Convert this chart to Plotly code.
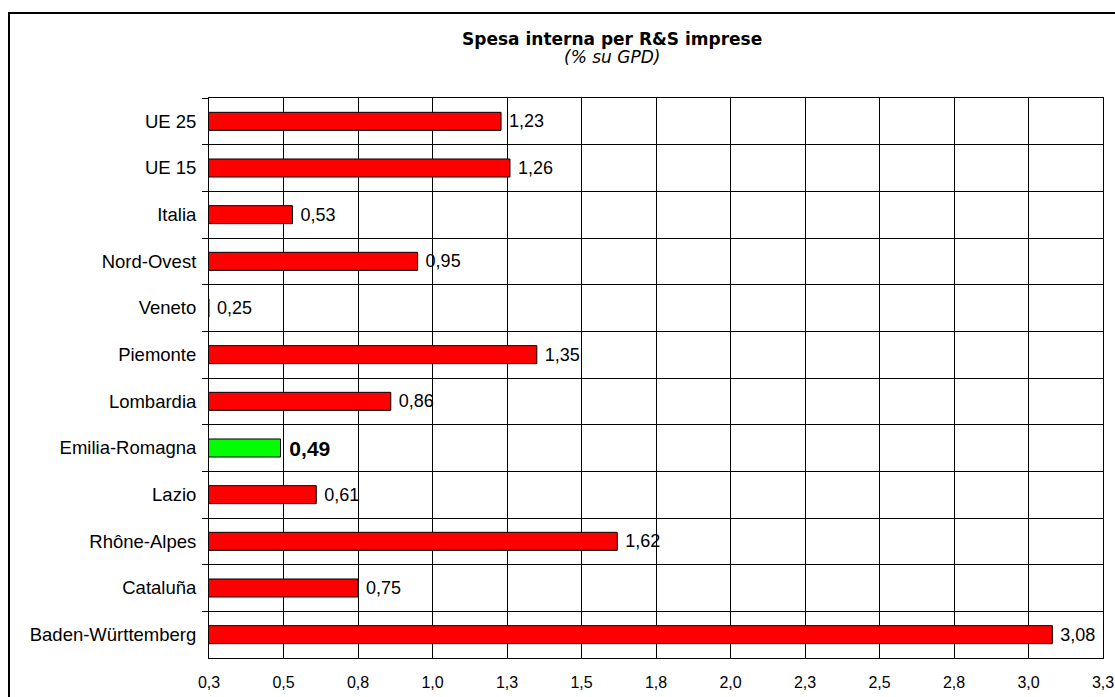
import plotly.graph_objects as go

# Business R&D expenditure as % of GDP, by region (top to bottom)
regions = [
    "UE 25", "UE 15", "Italia", "Nord-Ovest", "Veneto", "Piemonte",
    "Lombardia", "Emilia-Romagna", "Lazio", "Rhône-Alpes", "Cataluña",
    "Baden-Württemberg",
]
spesa = [1.23, 1.26, 0.53, 0.95, 0.25, 1.35, 0.86, 0.49, 0.61, 1.62, 0.75, 3.08]
highlight = "Emilia-Romagna"

# x-axis ticks (labels rounded to one decimal)
tick_values = [0.25, 0.5, 0.75, 1.0, 1.25, 1.5, 1.75, 2.0, 2.25, 2.5, 2.75, 3.0, 3.25]
tick_labels = ["0,3", "0,5", "0,8", "1,0", "1,3", "1,5", "1,8", "2,0", "2,3", "2,5", "2,8", "3,0", "3,3"]

bar_colors = ["#00FF00" if r == highlight else "#FF0000" for r in regions]
text_tpl = ["\u00a0<b>%{x:.2f}</b>" if r == highlight else "\u00a0%{x:.2f}" for r in regions]
text_sizes = [21 if r == highlight else 18 for r in regions]

fig = go.Figure(
    go.Bar(
        y=regions,
        x=spesa,
        orientation="h",
        marker=dict(color=bar_colors, line=dict(color="black", width=1)),
        texttemplate=text_tpl,
        textposition="outside",
        constraintext="none",
        textfont=dict(family="Liberation Sans, Arial, sans-serif", size=text_sizes, color="black"),
        hoverinfo="skip",
    )
)

fig.update_layout(
    width=1115,
    height=697,
    margin=dict(l=209, r=12, t=98, b=39, autoexpand=False),
    paper_bgcolor="white",
    plot_bgcolor="white",
    separators=",.",
    bargap=0.614,
    showlegend=False,
    font=dict(family="Liberation Sans, Arial, sans-serif", color="black"),
    xaxis=dict(
        range=[tick_values[0], tick_values[-1]],
        tickmode="array",
        tickvals=tick_values,
        ticktext=tick_labels,
        tickfont=dict(size=16),
        showgrid=True,
        gridcolor="black",
        gridwidth=1,
        showline=True,
        linecolor="black",
        linewidth=1,
        mirror=True,
        ticks="",
        ticklabelstandoff=10,
        automargin=False,
        zeroline=False,
        fixedrange=True,
    ),
    yaxis=dict(
        autorange="reversed",
        tickson="boundaries",
        ticks="outside",
        ticklen=6,
        tickcolor="black",
        tickfont=dict(size=18.5),
        showgrid=True,
        gridcolor="black",
        gridwidth=1,
        showline=True,
        linecolor="black",
        linewidth=1,
        mirror=True,
        ticklabelstandoff=8,
        automargin=False,
        fixedrange=True,
    ),
    annotations=[
        dict(
            text="<b>Spesa interna per R&S imprese</b>",
            xref="paper", yref="paper", x=(612 - 209) / 894, y=1 + (98 - 39) / 560,
            xanchor="center", yanchor="middle", showarrow=False,
            font=dict(family="DejaVu Sans, Verdana, sans-serif", size=17, color="black"),
        ),
        dict(
            text="<i>(% su GPD)</i>",
            xref="paper", yref="paper", x=(612 - 209) / 894, y=1 + (98 - 57) / 560,
            xanchor="center", yanchor="middle", showarrow=False,
            font=dict(family="DejaVu Sans, Verdana, sans-serif", size=17, color="black"),
        ),
    ],
    shapes=[
        # outer chart frame
        dict(
            type="rect", xref="paper", yref="paper",
            x0=(9 - 209) / 894, x1=(1117 - 209) / 894,
            y0=-(702 - 658) / 560, y1=1 + (98 - 13) / 560,
            line=dict(color="black", width=2), fillcolor="rgba(0,0,0,0)",
            layer="above",
        ),
    ],
)

fig.write_html("out.html")
